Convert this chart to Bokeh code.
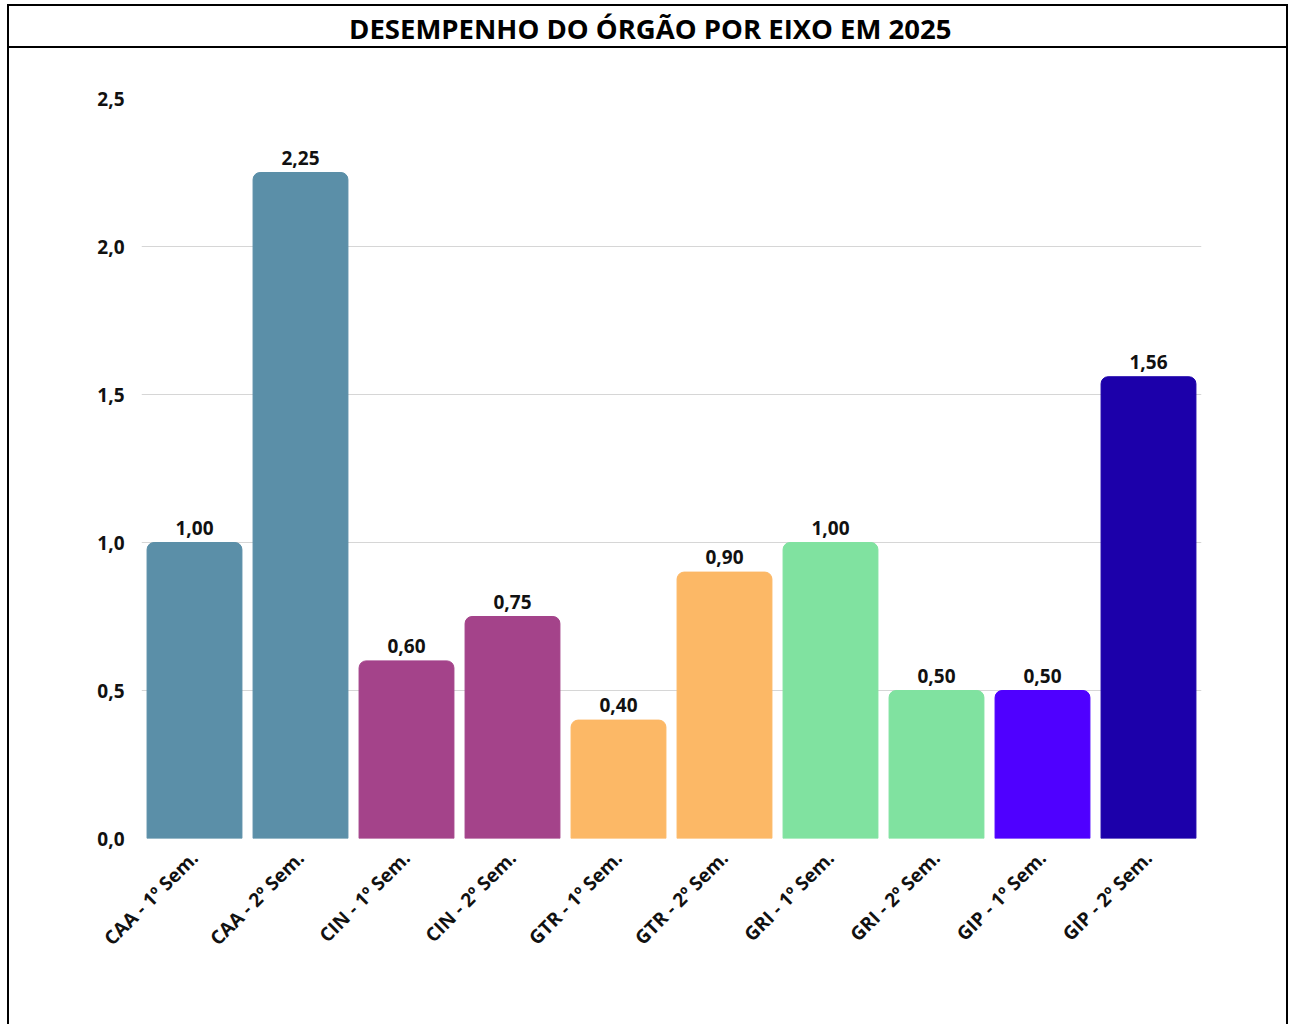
from bokeh.plotting import figure
from bokeh.layouts import column
from bokeh.models import ColumnDataSource, CustomJSTickFormatter, FixedTicker, Range1d
from bokeh.core.properties import value
from bokeh.embed import file_html
from bokeh.resources import INLINE
import math

TITLE = "DESEMPENHO DO ÓRGÃO POR EIXO EM 2025"
categories = ["CAA - 1º Sem.", "CAA - 2º Sem.", "CIN - 1º Sem.", "CIN - 2º Sem.",
              "GTR - 1º Sem.", "GTR - 2º Sem.", "GRI - 1º Sem.", "GRI - 2º Sem.",
              "GIP - 1º Sem.", "GIP - 2º Sem."]
values = [1.00, 2.25, 0.60, 0.75, 0.40, 0.90, 1.00, 0.50, 0.50, 1.56]
colors = ["#5B8FA8", "#5B8FA8", "#A4438A", "#A4438A", "#FCB866", "#FCB866",
          "#80E2A0", "#80E2A0", "#4F00FF", "#1C00AA"]
y_ticks = [0, 0.5, 1.0, 1.5, 2.0, 2.5]

FONT = "Open Sans"
W = 1277

# ---- title strip ----
t = figure(width=W, height=42, x_range=Range1d(0, 1), y_range=Range1d(0, 1),
           min_border=0, toolbar_location=None, output_backend="svg",
           styles={"border-bottom": "2px solid black"})
t.axis.visible = False
t.grid.visible = False
t.outline_line_color = None
t.text(x=[0.48], y=[0.47], text=[TITLE], text_align="center", text_baseline="middle",
       text_font=value(FONT), text_font_style="bold", text_font_size="27.5px",
       text_color="#000000")

# ---- chart ----
labels = [f"{v:.2f}".replace(".", ",") for v in values]
src = ColumnDataSource(dict(cat=categories, val=values, color=colors, lab=labels))

p = figure(width=W, height=976, x_range=categories, y_range=Range1d(0, 2.5),
           toolbar_location=None, output_backend="svg",
           min_border_left=132, min_border_right=85, min_border_top=50,
           min_border_bottom=186)
p.outline_line_color = None
p.vbar(x="cat", top="val", width=0.895, color="color", source=src,
       border_radius=(7, 7, 0, 0))
p.text(x="cat", y="val", text="lab", source=src, text_align="center",
       text_baseline="bottom", y_offset=-8, text_font=value(FONT),
       text_font_style="bold", text_font_size="19px", text_color="#111111")

p.xgrid.visible = False
p.ygrid.grid_line_color = "#d6d6d6"
p.ygrid.grid_line_width = 1
p.yaxis.ticker = FixedTicker(ticks=y_ticks)
p.yaxis.formatter = CustomJSTickFormatter(code="return tick.toFixed(1).replace('.', ',');")
for ax in (p.xaxis[0], p.yaxis[0]):
    ax.axis_line_color = None
    ax.major_tick_line_color = None
    ax.minor_tick_line_color = None
    ax.major_label_text_font = FONT
    ax.major_label_text_font_style = "bold"
    ax.major_label_text_color = "#111111"
p.yaxis.major_label_text_font_size = "19px"
p.yaxis.major_label_standoff = 11
p.xaxis.major_label_text_font_size = "19px"
p.xaxis.major_label_orientation = math.pi / 4
p.xaxis.major_label_standoff = 10

page = column(t, p, styles={"border-top": "2px solid black",
                            "border-left": "2px solid black",
                            "border-right": "2px solid black",
                            "margin": "4px 0 0 7px"})
open("out.html", "w").write(file_html(page, INLINE))
